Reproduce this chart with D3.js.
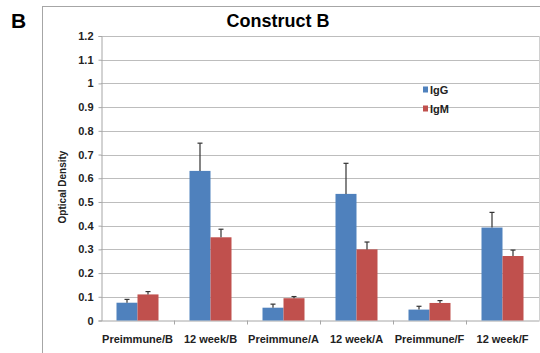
<!DOCTYPE html>
<html><head><meta charset="utf-8">
<script src="https://cdn.jsdelivr.net/npm/d3@7"></script>
<style>body{margin:0;background:#fff}svg{display:block}text{font-family:"Liberation Sans",Arial,sans-serif}</style>
</head><body><svg id="c" width="540" height="353"></svg>
<script>
const categories = ["Preimmune/B","12 week/B","Preimmune/A","12 week/A","Preimmune/F","12 week/F"];
const seriesNames = ["IgG","IgM"];
const igg = [0.075,0.631,0.054,0.534,0.046,0.392];
const iggErr = [0.014,0.117,0.015,0.129,0.014,0.064];
const igm = [0.110,0.351,0.094,0.300,0.074,0.272];
const igmErr = [0.012,0.034,0.007,0.031,0.010,0.025];
const yTicks = [0,0.1,0.2,0.3,0.4,0.5,0.6,0.7,0.8,0.9,1,1.1,1.2];
const colors = ["#4F81BD","#C0504D"];

const svg = d3.select("#c");
const L=101, R=539, T=36, B=320.5;
const x = d3.scaleBand().domain(categories).range([L,R]);
const y = d3.scaleLinear().domain([0,1.2]).range([B,T]);

// outer frame
svg.append("rect").attr("x",42.5).attr("y",6.5).attr("width",520).attr("height",360)
  .attr("fill","none").attr("stroke","#a6a6a6").attr("stroke-width",1);
svg.append("text").attr("x",11).attr("y",27.5).attr("font-size",21).attr("font-weight","bold").text("B");
svg.append("text").attr("x",278).attr("y",26.5).attr("text-anchor","middle").attr("font-size",18).attr("font-weight","bold").text("Construct B");

// gridlines
svg.append("g").selectAll("line").data(yTicks.slice(1)).join("line")
  .attr("x1",L).attr("x2",R).attr("y1",d=>Math.round(y(d))+0.5).attr("y2",d=>Math.round(y(d))+0.5)
  .attr("stroke","#bdbdbd").attr("stroke-width",1);
svg.append("line").attr("x1",R+0.5).attr("x2",R+0.5).attr("y1",T).attr("y2",B).attr("stroke","#d0d0d0");

// y axis
const ya = svg.append("g").attr("transform",`translate(${L+0.5},0)`)
  .call(d3.axisLeft(y).tickValues(yTicks).tickSize(3).tickPadding(5).tickFormat(d=>String(+d.toFixed(1))));
ya.select(".domain").attr("stroke","#a6a6a6");
ya.selectAll(".tick line").attr("stroke","#a6a6a6");
ya.selectAll("text").attr("font-size",11).attr("font-weight","bold").attr("fill","#222").attr("font-family","Liberation Sans, Arial, sans-serif");

// x axis
const xa = svg.append("g").attr("transform",`translate(0,${B})`)
  .call(d3.axisBottom(x).tickSize(0).tickPadding(15));
xa.select(".domain").attr("stroke","#a6a6a6");
xa.selectAll("text").attr("font-size",11).attr("font-weight","bold").attr("fill","#222").attr("font-family","Liberation Sans, Arial, sans-serif");
svg.append("g").selectAll("line").data(categories.slice(1)).join("line")
  .attr("x1",d=>Math.round(x(d))+0.5).attr("x2",d=>Math.round(x(d))+0.5).attr("y1",B).attr("y2",B+4)
  .attr("stroke","#a6a6a6");

// y label
svg.append("text").attr("transform","translate(65.5,187) rotate(-90)").attr("text-anchor","middle")
  .attr("font-size",10).attr("font-weight","bold").attr("font-family","Open Sans, sans-serif").attr("fill","#222").text("Optical Density");

const bw = 21;
const series = [{v:igg,e:iggErr},{v:igm,e:igmErr}];
series.forEach((s,si)=>{
  const g = svg.append("g");
  g.selectAll("rect").data(categories).join("rect")
    .attr("x",(d,i)=>x(d)+x.bandwidth()/2 - bw + si*bw)
    .attr("y",(d,i)=>y(s.v[i])).attr("width",bw).attr("height",(d,i)=>B-y(s.v[i]))
    .attr("fill",colors[si]);
  const eg = svg.append("g").attr("stroke","#333").attr("stroke-width",1.2);
  categories.forEach((d,i)=>{
    const cx = x(d)+x.bandwidth()/2 - bw + si*bw + bw/2;
    eg.append("line").attr("x1",cx).attr("x2",cx).attr("y1",y(s.v[i])).attr("y2",y(s.v[i]+s.e[i]));
    eg.append("line").attr("x1",cx-2.5).attr("x2",cx+2.5).attr("y1",y(s.v[i]+s.e[i])).attr("y2",y(s.v[i]+s.e[i]));
  });
});

// legend
seriesNames.forEach((n,i)=>{
  const ly = 89.5 + i*19;
  svg.append("rect").attr("x",423).attr("y",ly-3).attr("width",5).attr("height",6).attr("fill",colors[i]);
  svg.append("text").attr("x",430).attr("y",ly+4).attr("font-size",11).attr("font-weight","bold").attr("fill","#222").text(n);
});
</script></body></html>
